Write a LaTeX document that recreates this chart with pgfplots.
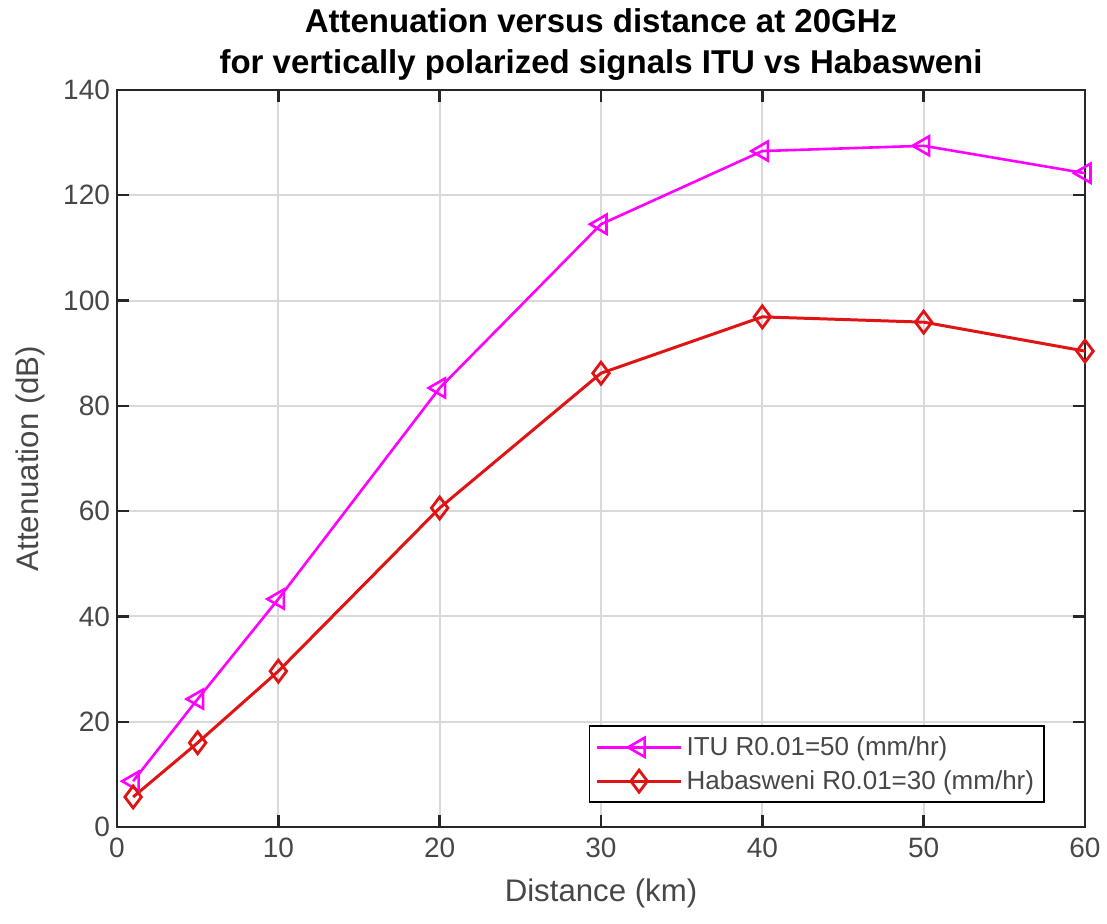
\documentclass[border=0pt]{standalone}
\usepackage{pgfplots}
\pgfplotsset{compat=1.18}
\usepackage{fontspec}
\setmainfont{Liberation Sans}
\definecolor{axgray}{rgb}{0.15,0.15,0.15}
\definecolor{itu}{rgb}{1,0,1}
\definecolor{hab}{rgb}{0.88,0.08,0.08}
\begin{document}
\begin{tikzpicture}
\useasboundingbox (-58.5pt,-48.5pt) rectangle (495pt,413.5pt);
\begin{axis}[
  scale only axis,
  width=484pt, height=368.5pt,
  xmin=0, xmax=60, ymin=0, ymax=140,
  xtick={0,10,...,60}, ytick={0,20,...,140},
  axis line style={axgray, line width=1.4pt},
  tick style={axgray, line width=1.2pt},
  major tick length=6pt,
  tick align=inside,
  xtick pos=both, ytick pos=both,
  grid=major,
  major grid style={gray!30, line width=1pt},
  /pgf/number format/assume math mode=true,
  ticklabel style={font=\fontsize{14}{16}\selectfont, text=axgray!85},
  xticklabel style={yshift=-2pt},
  label style={font=\fontsize{15.6}{18}\selectfont, text=axgray!85},
  xlabel={Distance (km)},
  ylabel={Attenuation (dB)},
  xlabel style={at={(axis description cs:0.5,-0.0896)}, anchor=center},
  ylabel style={at={(axis description cs:-0.0899,0.5)}, anchor=center},
  title={Attenuation versus distance at 20GHz\\for vertically polarized signals ITU vs Habasweni},
  title style={align=center, font=\bfseries\fontsize{16.5}{20.5}\selectfont, text=black, yshift=-5pt},
  legend style={at={(0.9587,0.0326)}, anchor=south east, draw=black, line width=0.9pt, fill=white,
    font=\fontsize{13}{16}\selectfont, text=axgray!85, row sep=2pt, inner xsep=3pt, inner ysep=3pt},
  legend cell align=left,
  legend image code/.code={
    \draw[#1, line width=1.4pt] (0pt,0pt) -- (42pt,0pt);
    \draw[#1, mark repeat=2, mark phase=2] plot coordinates {(0pt,0pt) (21pt,0pt) (42pt,0pt)};
  },
]
\addplot[itu, line width=1.3pt, mark=triangle, mark size=5.5pt, mark options={rotate=90, solid, line width=1.3pt}]
  coordinates {(1,8.7) (5,24.3) (10,43.3) (20,83.4) (30,114.5) (40,128.4) (50,129.4) (60,124.2)};
\addlegendentry{ITU R0.01=50 (mm/hr)}
\addplot[hab, line width=1.5pt, mark=diamond, mark size=5.5pt, mark options={solid, line width=1.4pt}]
  coordinates {(1,5.7) (5,16) (10,29.6) (20,60.6) (30,86.2) (40,96.9) (50,95.9) (60,90.4)};
\addlegendentry{Habasweni R0.01=30 (mm/hr)}
\end{axis}
\end{tikzpicture}
\end{document}
